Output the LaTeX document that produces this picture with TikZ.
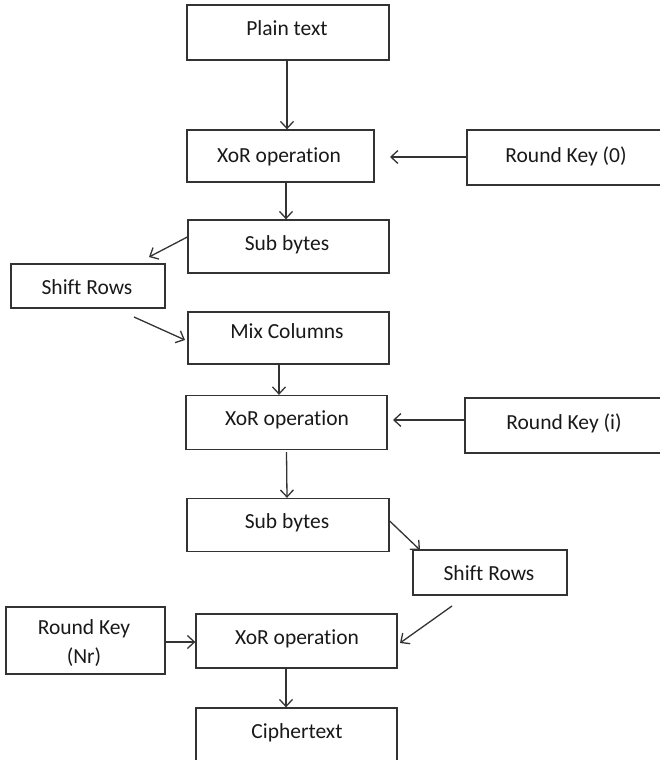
\documentclass[tikz,border=0pt]{standalone}
\usepackage{fontspec}
\setmainfont[Ligatures=NoCommon]{Carlito}
\usetikzlibrary{arrows.meta}
\begin{document}
\begin{tikzpicture}[x=1pt,y=-1pt,
  box/.style={draw=black!80, line width=1.3pt, inner sep=0pt, fill=white},
  lbl/.style={font=\fontsize{21.5}{29}\selectfont, inner sep=0pt, text=black!90,
              text height=14pt, text depth=4pt, align=center},
  lbl2/.style={font=\fontsize{21.5}{29}\selectfont, inner sep=0pt, text=black!90, align=center},
  arr/.style={draw=black!80, line width=1.3pt, -{Straight Barb[length=7pt,width=13pt,line width=1.3pt]}}]
\useasboundingbox (0,0) rectangle (659,760);
% boxes
\node[box, minimum width=202pt, minimum height=55pt] (pt)  at (288,32.5) {};
\node[box, minimum width=187pt, minimum height=52pt] (x1)  at (280.5,156) {};
\node[box, minimum width=203pt, minimum height=55pt] (rk0) at (568.5,157.5) {};
\node[box, minimum width=201pt, minimum height=53pt] (sb1) at (288.5,246.5) {};
\node[box, minimum width=154pt, minimum height=44pt] (sr1) at (88,286) {};
\node[box, minimum width=201pt, minimum height=52pt] (mc)  at (288.5,338) {};
\node[box, minimum width=201pt, minimum height=54pt] (x2)  at (286.5,422.5) {};
\node[box, minimum width=205pt, minimum height=55pt] (rki) at (567.5,425.5) {};
\node[box, minimum width=202pt, minimum height=53pt] (sb2) at (288,525) {};
\node[box, minimum width=154pt, minimum height=45pt] (sr2) at (490,572.5) {};
\node[box, minimum width=159pt, minimum height=67pt] (rkn) at (85.5,640.5) {};
\node[box, minimum width=201pt, minimum height=54pt] (x3)  at (296.5,641) {};
\node[box, minimum width=201pt, minimum height=68pt] (ct)  at (296.5,742) {};
% labels
\node[lbl] (tpt)  at (287,30.5)  {Plain text};
\node[lbl] (tx1)  at (279,157.5) {XoR operation};
\node[lbl] (trk0) at (566,157.5) {Round Key (0)};
\node[lbl] (tsb1) at (287,245.5) {Sub bytes};
\node[lbl] (tsr1) at (87,289.5)  {Shift Rows};
\node[lbl] (tmc)  at (287,333.5) {Mix Columns};
\node[lbl] (tx2)  at (287,420.5) {XoR operation};
\node[lbl] (trki) at (564,424.5) {Round Key (i)};
\node[lbl] (tsb2) at (287,523.5) {Sub bytes};
\node[lbl] (tsr2) at (489,575.5) {Shift Rows};
\node[lbl2] (trkn) at (84,643)  {Round Key\\(Nr)};
\node[lbl] (tx3)  at (297,639.5) {XoR operation};
\node[lbl] (tct)  at (297,733.5) {Ciphertext};
% connectors
\coordinate (a1) at (149,257);
\coordinate (a2) at (134,317);
\coordinate (a3) at (185,340);
\coordinate (a4) at (420,550);
\coordinate (a5) at (452,606);
\coordinate (a6) at (400,643);
\draw[arr] (pt.south -| 287,0) -- (x1.north -| 287,0);
\draw[arr] (rk0.west |- 0,157) -- (390,157);
\draw[arr] (x1.south -| 286,0) -- (sb1.north -| 286,0);
\draw[arr] (sb1.west |- 0,237) -- (a1);
\draw[arr] (a2) -- (a3);
\draw[arr] (mc.south -| 279,0) -- (x2.north -| 279,0);
\draw[arr] (rki.west |- 0,420) -- (393,420);
\draw[arr] (286.5,452) -- (sb2.north -| 287,0);
\draw[arr] (sb2.east |- 0,521) -- (a4);
\draw[arr] (a5) -- (a6);
\draw[arr] (rkn.east |- 0,642) -- (x3.west |- 0,642);
\draw[arr] (x3.south -| 286,0) -- (ct.north -| 286,0);
\end{tikzpicture}
\end{document}
